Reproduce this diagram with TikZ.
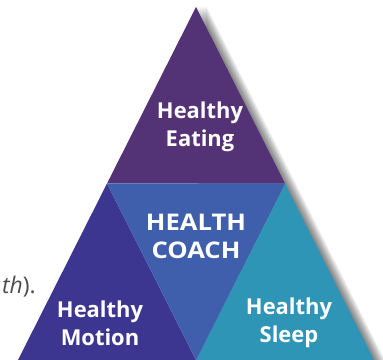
\documentclass[tikz,border=0pt]{standalone}
\usepackage{fontspec}
\setmainfont{Open Sans}
\newfontfamily\widefont[FakeStretch=1.12]{Open Sans}
\definecolor{eatc}{HTML}{533275}
\definecolor{motc}{HTML}{3D3690}
\definecolor{coac}{HTML}{3F5EAB}
\definecolor{slpc}{HTML}{2F95B7}
\begin{document}
\begin{tikzpicture}[x=1bp,y=1bp,line join=round]
	\tikzstyle{tile1}=[fill=eatc];
	\tikzstyle{tile2}=[fill=motc];
	\tikzstyle{tile3}=[fill=coac];
	\tikzstyle{tile4}=[fill=slpc];
	\tikzstyle{lab}=[text=white,align=center,font=\fontsize{22}{28}\selectfont\bfseries,inner sep=0pt];
	\useasboundingbox (0,0) rectangle (383,360);

	\coordinate (A)  at (196,353);
	\coordinate (ML) at (107,176.5);
	\coordinate (MR) at (285,176.5);
	\coordinate (BL) at (18,0);
	\coordinate (BM) at (196,0);
	\coordinate (BR) at (374,0);

	% shadow on the right side
	\foreach \i in {1,...,12}
		\fill[black,opacity=0.05] ([xshift=\i*0.9bp]A) -- ([xshift=\i*0.9bp]BR) -- (BM) -- cycle;

	\fill[tile1] (A) -- (ML) -- (MR) -- cycle;
	\fill[tile2] (ML) -- (BL) -- (BM) -- cycle;
	\fill[tile4] (MR) -- (BM) -- (BR) -- cycle;
	\fill[tile3] (ML) -- (MR) -- (BM) -- cycle;

	\node[lab] (eat) at (200,233) {Healthy\\Eating};
	\node[lab,font=\widefont\fontsize{23}{28}\selectfont\bfseries] (coach) at (196,124) {HEALTH\\COACH};
	\node[lab] (mot) at (100,37) {Healthy\\Motion};
	\node[lab] (slp) at (289,37) {Healthy\\Sleep};
	\node[anchor=base east,inner sep=0pt,text=black!70,font=\fontsize{23}{27}\selectfont] (txt) at (36,67) {\textit{th}).};
\end{tikzpicture}
\end{document}
